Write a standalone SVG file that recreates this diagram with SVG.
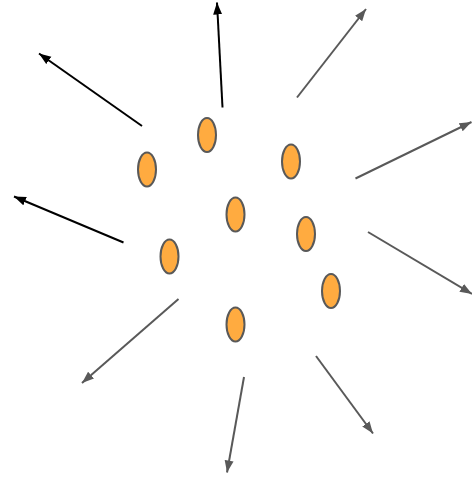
<svg xmlns="http://www.w3.org/2000/svg" width="472" height="477" viewBox="0 0 472 477">
<style>
.node ellipse{fill:#ffab40;stroke:#595959;stroke-width:2}
.blk{stroke:#000;stroke-width:2;fill:none;marker-end:url(#ab)}
.gry{stroke:#595959;stroke-width:2;fill:none;marker-end:url(#ag)}
</style>
<defs>
<marker id="ab" markerUnits="userSpaceOnUse" markerWidth="13" markerHeight="10" refX="12" refY="4.5" orient="auto" viewBox="0 0 13 9">
<path d="M0,0 L12,4.5 L0,9 Z" fill="#000"/>
</marker>
<marker id="ag" markerUnits="userSpaceOnUse" markerWidth="13" markerHeight="10" refX="12" refY="4.5" orient="auto" viewBox="0 0 13 9">
<path d="M0,0 L12,4.5 L0,9 Z" fill="#595959"/>
</marker>
</defs>
<rect width="472" height="477" fill="#fff"/>
<g id="connectors">
<line class="blk" x1="222.5" y1="107.5" x2="217" y2="2.5"/>
<line class="blk" x1="142" y1="126" x2="39" y2="53.5"/>
<line class="blk" x1="123.5" y1="242.5" x2="14" y2="196.5"/>
<line class="gry" x1="297" y1="97.5" x2="366" y2="9"/>
<line class="gry" x1="355.5" y1="178.5" x2="471.5" y2="122"/>
<line class="gry" x1="368" y1="232" x2="472" y2="294"/>
<line class="gry" x1="178.5" y1="299" x2="82" y2="383"/>
<line class="gry" x1="244" y1="377" x2="227" y2="472.5"/>
<line class="gry" x1="316" y1="356" x2="373" y2="433.5"/>
</g>
<g id="n1" class="node"><ellipse cx="207" cy="135" rx="9" ry="17"/></g>
<g id="n2" class="node"><ellipse cx="147" cy="169.5" rx="9" ry="17"/></g>
<g id="n3" class="node"><ellipse cx="291" cy="161.5" rx="9" ry="17"/></g>
<g id="n4" class="node"><ellipse cx="235.5" cy="214.5" rx="9" ry="17"/></g>
<g id="n5" class="node"><ellipse cx="306" cy="234" rx="9" ry="17"/></g>
<g id="n6" class="node"><ellipse cx="169.5" cy="256.5" rx="9" ry="17"/></g>
<g id="n7" class="node"><ellipse cx="331" cy="291" rx="9" ry="17"/></g>
<g id="n8" class="node"><ellipse cx="235.5" cy="324.5" rx="9" ry="17"/></g>
</svg>
